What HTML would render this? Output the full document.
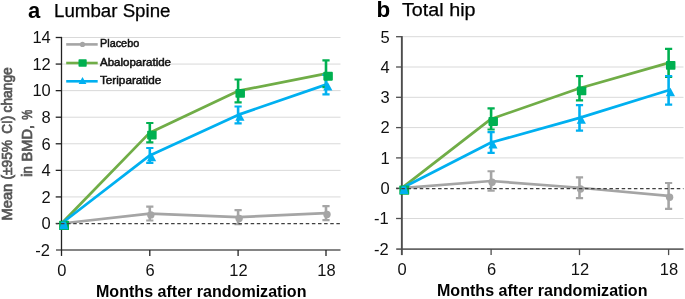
<!DOCTYPE html>
<html><head><meta charset="utf-8"><style>
html,body{margin:0;padding:0;background:#fff;width:685px;height:299px;overflow:hidden;}
svg{display:block;will-change:transform;}
text{font-family:"Liberation Sans",sans-serif;}
</style></head><body>
<svg width="685" height="299" viewBox="0 0 685 299">
<rect width="685" height="299" fill="#fff"/>
<line x1="61.5" y1="37.50" x2="340.5" y2="37.50" stroke="#D9D9D9" stroke-width="1"/>
<line x1="61.5" y1="64.07" x2="340.5" y2="64.07" stroke="#D9D9D9" stroke-width="1"/>
<line x1="61.5" y1="90.64" x2="340.5" y2="90.64" stroke="#D9D9D9" stroke-width="1"/>
<line x1="61.5" y1="117.21" x2="340.5" y2="117.21" stroke="#D9D9D9" stroke-width="1"/>
<line x1="61.5" y1="143.78" x2="340.5" y2="143.78" stroke="#D9D9D9" stroke-width="1"/>
<line x1="61.5" y1="170.36" x2="340.5" y2="170.36" stroke="#D9D9D9" stroke-width="1"/>
<line x1="61.5" y1="196.93" x2="340.5" y2="196.93" stroke="#D9D9D9" stroke-width="1"/>
<line x1="56.0" y1="249.95" x2="340.5" y2="249.95" stroke="#858585" stroke-width="2"/>
<line x1="61.5" y1="36.90" x2="61.5" y2="255.95" stroke="#222" stroke-width="1.3"/>
<line x1="55.70" y1="37.50" x2="61.5" y2="37.50" stroke="#222" stroke-width="1.3"/>
<line x1="55.70" y1="64.07" x2="61.5" y2="64.07" stroke="#222" stroke-width="1.3"/>
<line x1="55.70" y1="90.64" x2="61.5" y2="90.64" stroke="#222" stroke-width="1.3"/>
<line x1="55.70" y1="117.21" x2="61.5" y2="117.21" stroke="#222" stroke-width="1.3"/>
<line x1="55.70" y1="143.78" x2="61.5" y2="143.78" stroke="#222" stroke-width="1.3"/>
<line x1="55.70" y1="170.36" x2="61.5" y2="170.36" stroke="#222" stroke-width="1.3"/>
<line x1="55.70" y1="196.93" x2="61.5" y2="196.93" stroke="#222" stroke-width="1.3"/>
<line x1="55.70" y1="223.50" x2="61.5" y2="223.50" stroke="#222" stroke-width="1.3"/>
<line x1="149.8" y1="249.95" x2="149.8" y2="255.95" stroke="#222" stroke-width="1.3"/>
<line x1="238.1" y1="249.95" x2="238.1" y2="255.95" stroke="#222" stroke-width="1.3"/>
<line x1="326.0" y1="249.95" x2="326.0" y2="255.95" stroke="#222" stroke-width="1.3"/>
<polyline points="61.50,223.50 149.80,213.60 238.10,217.20 326.00,213.20" fill="none" stroke="#A5A5A5" stroke-width="2.75" stroke-linejoin="round"/>
<polyline points="61.50,223.50 149.80,132.65 238.10,90.90 326.00,73.70" fill="none" stroke="#70AD47" stroke-width="2.75" stroke-linejoin="round"/>
<polyline points="61.50,223.50 149.80,155.45 238.10,114.90 326.00,84.60" fill="none" stroke="#00B0F0" stroke-width="2.75" stroke-linejoin="round"/>
<path d="M149.80,206.70V220.50" stroke="#A5A5A5" stroke-width="2.6"/>
<path d="M146.20,206.70H153.40M146.20,220.50H153.40" stroke="#A5A5A5" stroke-width="2.2"/>
<path d="M238.10,210.20V224.20" stroke="#A5A5A5" stroke-width="2.6"/>
<path d="M234.50,210.20H241.70M234.50,224.20H241.70" stroke="#A5A5A5" stroke-width="2.2"/>
<path d="M326.00,206.20V220.20" stroke="#A5A5A5" stroke-width="2.6"/>
<path d="M322.40,206.20H329.60M322.40,220.20H329.60" stroke="#A5A5A5" stroke-width="2.2"/>
<path d="M149.80,123.00V142.30" stroke="#00B050" stroke-width="2.6"/>
<path d="M146.20,123.00H153.40M146.20,142.30H153.40" stroke="#00B050" stroke-width="2.2"/>
<path d="M238.10,79.50V102.30" stroke="#00B050" stroke-width="2.6"/>
<path d="M234.50,79.50H241.70M234.50,102.30H241.70" stroke="#00B050" stroke-width="2.2"/>
<path d="M326.00,60.30V87.10" stroke="#00B050" stroke-width="2.6"/>
<path d="M322.40,60.30H329.60M322.40,87.10H329.60" stroke="#00B050" stroke-width="2.2"/>
<path d="M149.80,148.00V162.90" stroke="#00B0F0" stroke-width="2.6"/>
<path d="M146.20,148.00H153.40M146.20,162.90H153.40" stroke="#00B0F0" stroke-width="2.2"/>
<path d="M238.10,106.50V123.30" stroke="#00B0F0" stroke-width="2.6"/>
<path d="M234.50,106.50H241.70M234.50,123.30H241.70" stroke="#00B0F0" stroke-width="2.2"/>
<path d="M326.00,74.90V94.30" stroke="#00B0F0" stroke-width="2.6"/>
<path d="M322.40,74.90H329.60M322.40,94.30H329.60" stroke="#00B0F0" stroke-width="2.2"/>
<circle cx="150.80" cy="214.90" r="3.7" fill="#A5A5A5"/>
<circle cx="239.10" cy="218.50" r="3.7" fill="#A5A5A5"/>
<circle cx="327.00" cy="214.50" r="3.7" fill="#A5A5A5"/>
<rect x="147.15" y="130.80" width="9.5" height="8.8" rx="0.8" fill="#00B050"/>
<rect x="235.45" y="89.05" width="9.5" height="8.8" rx="0.8" fill="#00B050"/>
<rect x="323.35" y="71.85" width="9.5" height="8.8" rx="0.8" fill="#00B050"/>
<path d="M151.60,152.85L156.20,161.35L147.00,161.35Z" fill="#00B0F0"/>
<path d="M239.90,112.30L244.50,120.80L235.30,120.80Z" fill="#00B0F0"/>
<path d="M327.80,82.00L332.40,90.50L323.20,90.50Z" fill="#00B0F0"/>
<rect x="59.10" y="220.85" width="9.9" height="9.15" rx="0.6" fill="#00B050"/>
<path d="M61.60,221.60H65.80L68.20,229.20H59.45Z" fill="#00B0F0"/>
<line x1="56.0" y1="223.55" x2="340.5" y2="223.55" stroke="#404040" stroke-width="1.25" stroke-dasharray="3.5 2.62" stroke-dashoffset="1.16"/>
<line x1="401.7" y1="36.70" x2="683.5" y2="36.70" stroke="#D9D9D9" stroke-width="1"/>
<line x1="401.7" y1="67.00" x2="683.5" y2="67.00" stroke="#D9D9D9" stroke-width="1"/>
<line x1="401.7" y1="97.30" x2="683.5" y2="97.30" stroke="#D9D9D9" stroke-width="1"/>
<line x1="401.7" y1="127.60" x2="683.5" y2="127.60" stroke="#D9D9D9" stroke-width="1"/>
<line x1="401.7" y1="157.90" x2="683.5" y2="157.90" stroke="#D9D9D9" stroke-width="1"/>
<line x1="401.7" y1="218.50" x2="683.5" y2="218.50" stroke="#D9D9D9" stroke-width="1"/>
<line x1="396.2" y1="249.1" x2="683.5" y2="249.1" stroke="#666" stroke-width="1.8"/>
<line x1="401.85" y1="36.10" x2="401.85" y2="255.1" stroke="#4d4d4d" stroke-width="1.9"/>
<line x1="396.05" y1="36.70" x2="401.85" y2="36.70" stroke="#4d4d4d" stroke-width="1.3"/>
<line x1="396.05" y1="67.00" x2="401.85" y2="67.00" stroke="#4d4d4d" stroke-width="1.3"/>
<line x1="396.05" y1="97.30" x2="401.85" y2="97.30" stroke="#4d4d4d" stroke-width="1.3"/>
<line x1="396.05" y1="127.60" x2="401.85" y2="127.60" stroke="#4d4d4d" stroke-width="1.3"/>
<line x1="396.05" y1="157.90" x2="401.85" y2="157.90" stroke="#4d4d4d" stroke-width="1.3"/>
<line x1="396.05" y1="188.20" x2="401.85" y2="188.20" stroke="#4d4d4d" stroke-width="1.3"/>
<line x1="396.05" y1="218.50" x2="401.85" y2="218.50" stroke="#4d4d4d" stroke-width="1.3"/>
<line x1="491.1" y1="249.1" x2="491.1" y2="255.1" stroke="#4d4d4d" stroke-width="1.3"/>
<line x1="579.5" y1="249.1" x2="579.5" y2="255.1" stroke="#4d4d4d" stroke-width="1.3"/>
<line x1="668.6" y1="249.1" x2="668.6" y2="255.1" stroke="#4d4d4d" stroke-width="1.3"/>
<polyline points="401.70,188.20 491.10,181.00 579.50,187.75 668.60,195.90" fill="none" stroke="#A5A5A5" stroke-width="2.75" stroke-linejoin="round"/>
<polyline points="401.70,188.20 491.10,118.95 579.50,88.25 668.60,62.90" fill="none" stroke="#70AD47" stroke-width="2.75" stroke-linejoin="round"/>
<polyline points="401.70,188.20 491.10,142.55 579.50,117.85 668.60,90.30" fill="none" stroke="#00B0F0" stroke-width="2.75" stroke-linejoin="round"/>
<path d="M491.10,171.25V190.75" stroke="#A5A5A5" stroke-width="2.6"/>
<path d="M487.50,171.25H494.70M487.50,190.75H494.70" stroke="#A5A5A5" stroke-width="2.2"/>
<path d="M579.50,177.30V198.20" stroke="#A5A5A5" stroke-width="2.6"/>
<path d="M575.90,177.30H583.10M575.90,198.20H583.10" stroke="#A5A5A5" stroke-width="2.2"/>
<path d="M668.60,183.00V208.80" stroke="#A5A5A5" stroke-width="2.6"/>
<path d="M665.00,183.00H672.20M665.00,208.80H672.20" stroke="#A5A5A5" stroke-width="2.2"/>
<path d="M491.10,108.40V129.50" stroke="#00B050" stroke-width="2.6"/>
<path d="M487.50,108.40H494.70M487.50,129.50H494.70" stroke="#00B050" stroke-width="2.2"/>
<path d="M579.50,76.10V100.40" stroke="#00B050" stroke-width="2.6"/>
<path d="M575.90,76.10H583.10M575.90,100.40H583.10" stroke="#00B050" stroke-width="2.2"/>
<path d="M668.60,48.80V77.00" stroke="#00B050" stroke-width="2.6"/>
<path d="M665.00,48.80H672.20M665.00,77.00H672.20" stroke="#00B050" stroke-width="2.2"/>
<path d="M491.10,132.20V152.90" stroke="#00B0F0" stroke-width="2.6"/>
<path d="M487.50,132.20H494.70M487.50,152.90H494.70" stroke="#00B0F0" stroke-width="2.2"/>
<path d="M579.50,105.10V130.60" stroke="#00B0F0" stroke-width="2.6"/>
<path d="M575.90,105.10H583.10M575.90,130.60H583.10" stroke="#00B0F0" stroke-width="2.2"/>
<path d="M668.60,76.00V104.60" stroke="#00B0F0" stroke-width="2.6"/>
<path d="M665.00,76.00H672.20M665.00,104.60H672.20" stroke="#00B0F0" stroke-width="2.2"/>
<circle cx="492.10" cy="182.30" r="3.7" fill="#A5A5A5"/>
<circle cx="580.50" cy="189.05" r="3.7" fill="#A5A5A5"/>
<circle cx="669.60" cy="197.20" r="3.7" fill="#A5A5A5"/>
<rect x="488.45" y="117.10" width="9.5" height="8.8" rx="0.8" fill="#00B050"/>
<rect x="576.85" y="86.40" width="9.5" height="8.8" rx="0.8" fill="#00B050"/>
<rect x="665.95" y="61.05" width="9.5" height="8.8" rx="0.8" fill="#00B050"/>
<path d="M492.90,139.95L497.50,148.45L488.30,148.45Z" fill="#00B0F0"/>
<path d="M581.30,115.25L585.90,123.75L576.70,123.75Z" fill="#00B0F0"/>
<path d="M670.40,87.70L675.00,96.20L665.80,96.20Z" fill="#00B0F0"/>
<rect x="399.30" y="185.55" width="9.9" height="9.15" rx="0.6" fill="#00B050"/>
<path d="M401.80,186.30H406.00L408.40,193.90H399.65Z" fill="#00B0F0"/>
<line x1="396.2" y1="188.60" x2="683.5" y2="188.60" stroke="#404040" stroke-width="1.25" stroke-dasharray="3.5 2.62" stroke-dashoffset="0.96"/>
<text x="27.9" y="17.6" font-family="Liberation Sans, sans-serif" font-weight="bold" font-size="22" fill="#000">a</text>
<text x="54" y="16.8" font-family="Liberation Sans, sans-serif" font-size="18" fill="#000" stroke="#000" stroke-width="0.25" textLength="116.5" lengthAdjust="spacingAndGlyphs">Lumbar Spine</text>
<text x="376.6" y="17.1" font-family="Liberation Sans, sans-serif" font-weight="bold" font-size="22.4" fill="#000">b</text>
<text x="402" y="15.9" font-family="Liberation Sans, sans-serif" font-size="18" fill="#000" stroke="#000" stroke-width="0.25" textLength="73.5" lengthAdjust="spacingAndGlyphs">Total hip</text>
<text x="50.8" y="43.30" font-family="Liberation Sans, sans-serif" font-size="16.5" fill="#111" text-anchor="end">14</text>
<text x="50.8" y="69.87" font-family="Liberation Sans, sans-serif" font-size="16.5" fill="#111" text-anchor="end">12</text>
<text x="50.8" y="96.44" font-family="Liberation Sans, sans-serif" font-size="16.5" fill="#111" text-anchor="end">10</text>
<text x="50.8" y="123.01" font-family="Liberation Sans, sans-serif" font-size="16.5" fill="#111" text-anchor="end">8</text>
<text x="50.8" y="149.58" font-family="Liberation Sans, sans-serif" font-size="16.5" fill="#111" text-anchor="end">6</text>
<text x="50.8" y="176.16" font-family="Liberation Sans, sans-serif" font-size="16.5" fill="#111" text-anchor="end">4</text>
<text x="50.8" y="202.73" font-family="Liberation Sans, sans-serif" font-size="16.5" fill="#111" text-anchor="end">2</text>
<text x="50.8" y="229.30" font-family="Liberation Sans, sans-serif" font-size="16.5" fill="#111" text-anchor="end">0</text>
<text x="49.9" y="255.87" font-family="Liberation Sans, sans-serif" font-size="16.5" fill="#111" text-anchor="end">-2</text>
<text x="389.6" y="42.50" font-family="Liberation Sans, sans-serif" font-size="16.5" fill="#111" text-anchor="end">5</text>
<text x="389.6" y="72.80" font-family="Liberation Sans, sans-serif" font-size="16.5" fill="#111" text-anchor="end">4</text>
<text x="389.6" y="103.10" font-family="Liberation Sans, sans-serif" font-size="16.5" fill="#111" text-anchor="end">3</text>
<text x="389.6" y="133.40" font-family="Liberation Sans, sans-serif" font-size="16.5" fill="#111" text-anchor="end">2</text>
<text x="389.6" y="163.70" font-family="Liberation Sans, sans-serif" font-size="16.5" fill="#111" text-anchor="end">1</text>
<text x="389.6" y="194.00" font-family="Liberation Sans, sans-serif" font-size="16.5" fill="#111" text-anchor="end">0</text>
<text x="388.7" y="224.30" font-family="Liberation Sans, sans-serif" font-size="16.5" fill="#111" text-anchor="end">-1</text>
<text x="388.7" y="254.60" font-family="Liberation Sans, sans-serif" font-size="16.5" fill="#111" text-anchor="end">-2</text>
<text x="61.90" y="275.7" font-family="Liberation Sans, sans-serif" font-size="16.5" fill="#111" text-anchor="middle">0</text>
<text x="150.20" y="275.7" font-family="Liberation Sans, sans-serif" font-size="16.5" fill="#111" text-anchor="middle">6</text>
<text x="238.50" y="275.7" font-family="Liberation Sans, sans-serif" font-size="16.5" fill="#111" text-anchor="middle">12</text>
<text x="326.40" y="275.7" font-family="Liberation Sans, sans-serif" font-size="16.5" fill="#111" text-anchor="middle">18</text>
<text x="402.10" y="274.9" font-family="Liberation Sans, sans-serif" font-size="16.5" fill="#111" text-anchor="middle">0</text>
<text x="491.50" y="274.9" font-family="Liberation Sans, sans-serif" font-size="16.5" fill="#111" text-anchor="middle">6</text>
<text x="579.90" y="274.9" font-family="Liberation Sans, sans-serif" font-size="16.5" fill="#111" text-anchor="middle">12</text>
<text x="669.00" y="274.9" font-family="Liberation Sans, sans-serif" font-size="16.5" fill="#111" text-anchor="middle">18</text>
<text x="96" y="296.9" font-family="Liberation Sans, sans-serif" font-weight="bold" font-size="15.6" fill="#000" textLength="210.5" lengthAdjust="spacingAndGlyphs">Months after randomization</text>
<text x="437" y="296.3" font-family="Liberation Sans, sans-serif" font-weight="bold" font-size="15.6" fill="#000" textLength="210.5" lengthAdjust="spacingAndGlyphs">Months after randomization</text>
<text id="yw1" transform="translate(11.9,220.6) rotate(-90)" x="0" y="0" font-family="Liberation Sans, sans-serif" font-weight="normal" font-size="13.8" fill="#555" stroke="#555" stroke-width="0.7" textLength="36.90" lengthAdjust="spacingAndGlyphs">Mean</text>
<text id="yw2" transform="translate(11.9,179.6) rotate(-90)" x="0" y="0" font-family="Liberation Sans, sans-serif" font-weight="normal" font-size="13.8" fill="#555" stroke="#555" stroke-width="0.7" textLength="39.60" lengthAdjust="spacingAndGlyphs">(±95%</text>
<text id="yw3" transform="translate(11.9,133.8) rotate(-90)" x="0" y="0" font-family="Liberation Sans, sans-serif" font-weight="normal" font-size="13.8" fill="#555" stroke="#555" stroke-width="0.7" textLength="18.10" lengthAdjust="spacingAndGlyphs">CI)</text>
<text id="yw4" transform="translate(11.9,112.4) rotate(-90)" x="0" y="0" font-family="Liberation Sans, sans-serif" font-weight="normal" font-size="13.8" fill="#555" stroke="#555" stroke-width="0.7" textLength="45.10" lengthAdjust="spacingAndGlyphs">change</text>
<text id="yw5" transform="translate(31.9,176.8) rotate(-90)" x="0" y="0" font-family="Liberation Sans, sans-serif" font-weight="normal" font-size="13.8" fill="#555" stroke="#555" stroke-width="0.7" textLength="10.70" lengthAdjust="spacingAndGlyphs">in</text>
<text id="yw6" transform="translate(31.9,161.4) rotate(-90)" x="0" y="0" font-family="Liberation Sans, sans-serif" font-weight="normal" font-size="13.8" fill="#555" stroke="#555" stroke-width="0.7" textLength="36.40" lengthAdjust="spacingAndGlyphs">BMD,</text>
<text id="yw7" transform="translate(31.9,119.7) rotate(-90)" x="0" y="0" font-family="Liberation Sans, sans-serif" font-weight="normal" font-size="14.6" fill="#555" stroke="#555" stroke-width="0.7" textLength="10.00" lengthAdjust="spacingAndGlyphs">%</text>
<line x1="66.2" y1="44.4" x2="97.7" y2="44.4" stroke="#A5A5A5" stroke-width="2.6"/>
<circle cx="82.5" cy="44.4" r="2.6" fill="#A5A5A5"/>
<text id="lg0" x="100" y="47.40" font-family="Liberation Sans, sans-serif" font-weight="normal" font-size="10" fill="#111" stroke="#111" stroke-width="0.45" textLength="39.2" lengthAdjust="spacingAndGlyphs">Placebo</text>
<line x1="66.2" y1="63.0" x2="97.7" y2="63.0" stroke="#70AD47" stroke-width="2.6"/>
<rect x="78.5" y="59.2" width="8.2" height="7.6" rx="0.8" fill="#00B050"/>
<text id="lg1" x="100" y="65.70" font-family="Liberation Sans, sans-serif" font-weight="normal" font-size="10" fill="#111" stroke="#111" stroke-width="0.45" textLength="71" lengthAdjust="spacingAndGlyphs">Abaloparatide</text>
<line x1="66.2" y1="81.3" x2="97.7" y2="81.3" stroke="#00B0F0" stroke-width="2.6"/>
<path d="M82.5,77.1L86.4,83.89999999999999L78.6,83.89999999999999Z" fill="#00B0F0"/>
<text id="lg2" x="100" y="84.20" font-family="Liberation Sans, sans-serif" font-weight="normal" font-size="10" fill="#111" stroke="#111" stroke-width="0.45" textLength="61.2" lengthAdjust="spacingAndGlyphs">Teriparatide</text>
</svg>
</body></html>
